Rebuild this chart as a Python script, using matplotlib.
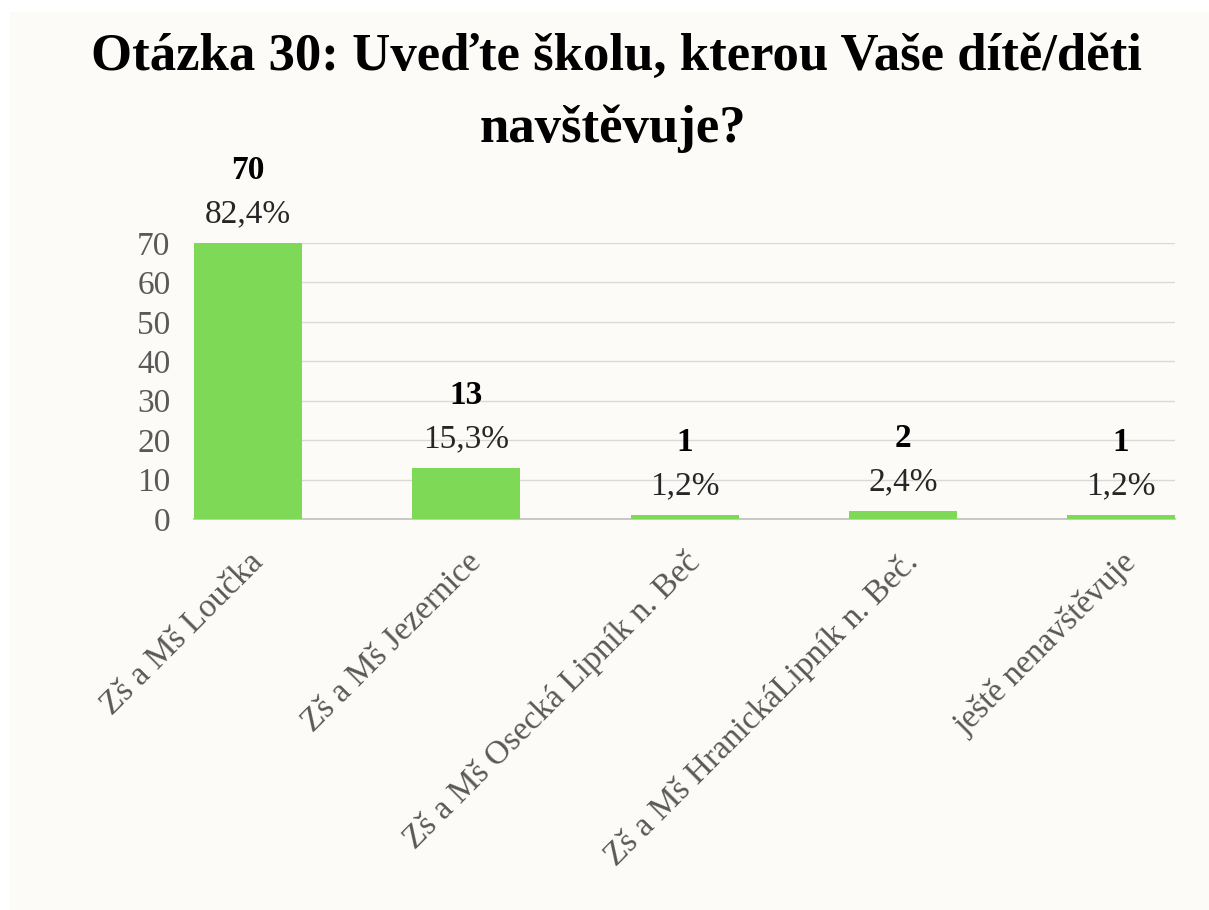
import matplotlib
matplotlib.use("Agg")
import matplotlib.pyplot as plt
from matplotlib.patches import Rectangle
import numpy as np

# data
skoly = ["Zš a Mš Loučka", "Zš a Mš Jezernice", "Zš a Mš Osecká Lipník n. Beč",
         "Zš a Mš HranickáLipník n. Beč.", "ještě nenavštěvuje"]
pocty = [70, 13, 1, 2, 1]
procenta = ["82,4%", "15,3%", "1,2%", "2,4%", "1,2%"]
yticks = [0, 10, 20, 30, 40, 50, 60, 70]

titulek = ["Otázka 30: Uveďte školu, kterou Vaše dítě/děti", "navštěvuje?"]

pozadi = "#FDFBF7"
zelena = "#7ED957"
seda = "#595959"

plt.rcParams['font.family'] = ['Liberation Serif', 'DejaVu Serif']

fig = plt.figure(figsize=(12.09, 9.10), dpi=100, facecolor="white")
# svetle pozadi (bily okraj nahore a vlevo)
fig.add_artist(Rectangle((10/1209, 0), 1, 1 - 12/910, transform=fig.transFigure,
                         facecolor=pozadi, edgecolor="none", zorder=-10))

ax = fig.add_axes([0.1605, 0.4297, 0.8114, 0.3033])
ax.set_facecolor("none")

x = np.arange(len(skoly))
sirka = 0.495
ax.bar(x, pocty, width=sirka, color=zelena, zorder=3)

ax.set_ylim(0, 70)
ax.set_xlim(-sirka/2, len(skoly) - 1 + sirka/2)
ax.set_yticks(yticks)
ax.yaxis.grid(True, color="#D9D9D9", linewidth=1.0, zorder=0)
ax.set_axisbelow(True)
for s in ["top", "right", "left"]:
    ax.spines[s].set_visible(False)
ax.spines["bottom"].set_color("#BFBFBF")
ax.spines["bottom"].set_linewidth(1.2)
ax.tick_params(axis="both", length=0, labelsize=24, colors=seda)
ax.tick_params(axis="y", pad=17)

ax.set_xticks(x)
ax.set_xticklabels(skoly, rotation=45, ha="right", rotation_mode="anchor",
                   fontsize=24, color=seda)
ax.tick_params(axis="x", pad=20)

# popisky dat
for xi, n, p in zip(x, pocty, procenta):
    ax.annotate(p, (xi, n), xytext=(0, 21), textcoords="offset points",
                ha="center", va="center", fontsize=24, color="#262626",
                annotation_clip=False)
    ax.annotate(str(n), (xi, n), xytext=(0, 52), textcoords="offset points",
                ha="center", va="center", fontsize=24, fontweight="bold",
                color="black", annotation_clip=False)

fig.text(0.51, 1 - 70/910, titulek[0], ha="center", va="baseline", fontsize=38,
         fontweight="bold", color="black")
fig.text(0.507, 1 - 142/910, titulek[1], ha="center", va="baseline", fontsize=38,
         fontweight="bold", color="black")

fig.savefig("out.png", dpi=100, facecolor=fig.get_facecolor())
